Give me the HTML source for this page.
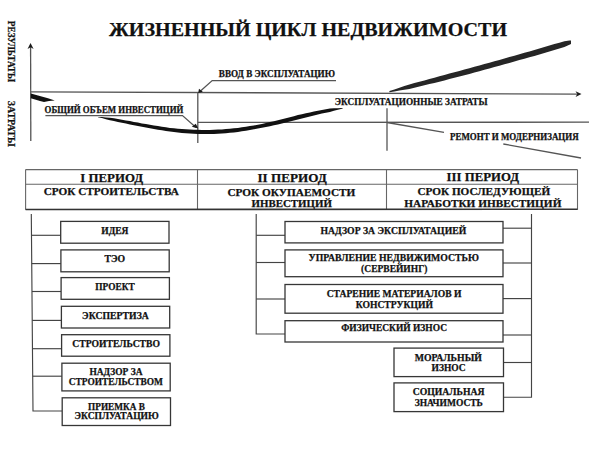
<!DOCTYPE html>
<html><head><meta charset="utf-8">
<style>
html,body{margin:0;padding:0;background:#fff;}
body{width:607px;height:452px;overflow:hidden;}
svg{display:block;}
text{font-family:"Liberation Serif",serif;font-weight:bold;fill:#111;stroke:#111;stroke-width:0.25px;}
</style></head><body>
<svg width="607" height="452" viewBox="0 0 607 452">
<text x="109" y="35.6" font-size="19.5" textLength="398.0" lengthAdjust="spacingAndGlyphs">ЖИЗНЕННЫЙ ЦИКЛ НЕДВИЖИМОСТИ</text>
<text transform="translate(7.8,20.8) rotate(90)" font-size="10.2" textLength="61.2" lengthAdjust="spacingAndGlyphs">РЕЗУЛЬТАТЫ</text>
<text transform="translate(8.3,100.8) rotate(90)" font-size="10.2" textLength="46" lengthAdjust="spacingAndGlyphs">ЗАТРАТЫ</text>
<g stroke="#555" fill="none" stroke-width="1.3">
<line x1="30.8" y1="141" x2="30.6" y2="47"/>
<line x1="31" y1="91.8" x2="577" y2="94.1"/>
<line x1="198" y1="122.4" x2="589" y2="122.2"/>
<line x1="197.8" y1="92.5" x2="197.8" y2="143"/>
<line x1="387" y1="108.3" x2="387" y2="150.8"/>
<line x1="387" y1="122.5" x2="444" y2="132.3"/>
<line x1="503.3" y1="144" x2="581" y2="158"/>
<polyline points="45.4,115.6 182.5,115.6 196,127.5"/>
<polyline points="336,80.6 212.2,80.6 200.5,91"/>
</g>
<g fill="#1a1a1a">
<path d="M30.5,43 L27.5,49 L30.6,47.3 L33.6,49 Z"/>
<path d="M581.5,94.1 L575.5,91.2 L577.3,94.1 L575.5,97 Z"/>
<path d="M198.3,128.6 L191.8,126.8 L195.8,123.8 Z"/>
<path d="M198.2,93 L199,88.8 L202.8,91.8 Z"/>
</g>
<path fill="#111" d="M30.8,93.6 L38,95.5 L48,98.3 L54.8,100.6 L49,101 L44,101.9 L40,101 L30.8,98.2 Z"/>
<path fill="#111" d="M97.9,116.9 L101.9,117.1 L105.9,117.4 L109.9,117.7 L113.9,118.3 L117.9,119.0 L121.9,119.7 L125.9,120.4 L129.9,121.1 L133.9,121.9 L137.9,122.6 L141.9,123.4 L145.9,124.1 L149.9,124.8 L153.9,125.5 L157.9,126.1 L161.9,126.8 L165.9,127.3 L169.9,127.9 L173.9,128.3 L177.9,128.7 L181.9,129.0 L185.9,129.3 L189.9,129.5 L193.9,129.7 L197.9,129.8 L201.9,129.9 L205.9,129.9 L209.9,129.9 L213.9,129.8 L217.9,129.6 L221.9,129.4 L225.9,129.1 L229.9,128.8 L233.9,128.3 L237.9,127.9 L241.9,127.3 L245.9,126.7 L249.9,126.1 L253.9,125.4 L257.9,124.7 L261.9,123.9 L265.9,123.0 L269.9,122.1 L273.9,121.2 L277.9,120.2 L281.9,119.2 L285.9,118.2 L289.9,117.2 L293.9,116.2 L297.9,115.1 L301.9,114.2 L305.9,113.3 L309.9,112.4 L313.9,111.5 L317.9,110.7 L321.9,109.9 L325.9,109.2 L329.9,108.5 L333.9,108.3 L337.9,108.2 L341.9,108.1 L342.7,108.1 L342.7,108.5 L341.9,108.7 L337.9,109.7 L333.9,110.7 L329.9,111.9 L325.9,112.7 L321.9,113.6 L317.9,114.5 L313.9,115.5 L309.9,116.5 L305.9,117.5 L301.9,118.6 L297.9,119.6 L293.9,120.6 L289.9,121.5 L285.9,122.5 L281.9,123.4 L277.9,124.4 L273.9,125.3 L269.9,126.2 L265.9,127.0 L261.9,127.8 L257.9,128.6 L253.9,129.3 L249.9,130.1 L245.9,130.7 L241.9,131.3 L237.9,131.9 L233.9,132.4 L229.9,132.8 L225.9,133.2 L221.9,133.5 L217.9,133.7 L213.9,133.9 L209.9,134.0 L205.9,134.1 L201.9,134.1 L197.9,134.0 L193.9,133.8 L189.9,133.6 L185.9,133.3 L181.9,132.9 L177.9,132.5 L173.9,132.0 L169.9,131.5 L165.9,130.9 L161.9,130.3 L157.9,129.7 L153.9,129.0 L149.9,128.3 L145.9,127.6 L141.9,126.8 L137.9,126.1 L133.9,125.3 L129.9,124.5 L125.9,123.6 L121.9,122.8 L117.9,121.9 L113.9,121.1 L109.9,120.3 L105.9,119.2 L101.9,118.1 L97.9,117.2 Z"/>
<path fill="#262626" d="M389.4,91.0 L394.4,89.4 L399.4,87.8 L404.4,86.1 L409.4,84.5 L414.4,83.1 L419.4,81.7 L424.4,80.4 L429.4,79.0 L434.4,77.7 L439.4,76.3 L444.4,75.0 L449.4,73.6 L454.4,72.3 L459.4,70.9 L464.4,69.6 L469.4,68.2 L474.4,66.8 L479.4,65.5 L484.4,64.1 L489.4,62.7 L494.4,61.3 L499.4,59.9 L504.4,58.5 L509.4,57.1 L514.4,55.7 L519.4,54.3 L524.4,52.8 L529.4,51.4 L534.4,49.9 L539.4,48.4 L544.4,47.0 L549.4,45.6 L554.4,44.1 L559.4,42.7 L564.4,41.2 L569.4,40.5 L571.0,40.4 L571.0,43.9 L569.4,44.7 L564.4,46.9 L559.4,48.5 L554.4,50.0 L549.4,51.5 L544.4,53.0 L539.4,54.4 L534.4,55.9 L529.4,57.3 L524.4,58.7 L519.4,60.1 L514.4,61.6 L509.4,63.0 L504.4,64.3 L499.4,65.7 L494.4,67.1 L489.4,68.5 L484.4,69.8 L479.4,71.2 L474.4,72.6 L469.4,73.9 L464.4,75.2 L459.4,76.5 L454.4,77.8 L449.4,79.1 L444.4,80.4 L439.4,81.7 L434.4,82.9 L429.4,84.1 L424.4,85.3 L419.4,86.5 L414.4,87.7 L409.4,88.9 L404.4,89.7 L399.4,90.6 L394.4,91.4 L389.4,92.2 Z"/>
<text x="44.6" y="112.6" font-size="9.3" textLength="138.8" lengthAdjust="spacingAndGlyphs">ОБЩИЙ ОБЪЕМ ИНВЕСТИЦИЙ</text>
<text x="218.8" y="77.3" font-size="9.3" textLength="116.2" lengthAdjust="spacingAndGlyphs">ВВОД В ЭКСПЛУАТАЦИЮ</text>
<text x="334.8" y="105.3" font-size="9.3" textLength="152.7" lengthAdjust="spacingAndGlyphs">ЭКСПЛУАТАЦИОННЫЕ ЗАТРАТЫ</text>
<text x="450" y="140.3" font-size="9.3" textLength="128.6" lengthAdjust="spacingAndGlyphs">РЕМОНТ И МОДЕРНИЗАЦИЯ</text>
<g stroke="#666" fill="none" stroke-width="1.1">
<line x1="25.6" y1="169.6" x2="577.5" y2="169.6"/>
<line x1="25.6" y1="184.3" x2="577.5" y2="184.3"/>
<line x1="25.6" y1="169.6" x2="25.6" y2="209.8"/>
<line x1="577.5" y1="169.6" x2="577.5" y2="209.8"/>
<line x1="197.5" y1="169.6" x2="197.5" y2="209.8"/>
<line x1="386.5" y1="169.6" x2="386.5" y2="209.8"/>
<line x1="25.6" y1="209.5" x2="577.5" y2="209.2" stroke="#333" stroke-width="1.6"/>
</g>
<text x="80.3" y="181.8" font-size="12.6" textLength="62.8" lengthAdjust="spacingAndGlyphs">I ПЕРИОД</text>
<text x="43.7" y="195.4" font-size="10.8" textLength="135.1" lengthAdjust="spacingAndGlyphs">СРОК СТРОИТЕЛЬСТВА</text>
<text x="257.5" y="181.6" font-size="12.6" textLength="69.2" lengthAdjust="spacingAndGlyphs">II ПЕРИОД</text>
<text x="227.4" y="195.5" font-size="10.8" textLength="128.0" lengthAdjust="spacingAndGlyphs">СРОК ОКУПАЕМОСТИ</text>
<text x="251.6" y="206.7" font-size="10.8" textLength="80.3" lengthAdjust="spacingAndGlyphs">ИНВЕСТИЦИЙ</text>
<text x="446.6" y="181.4" font-size="12.6" textLength="72.4" lengthAdjust="spacingAndGlyphs">III ПЕРИОД</text>
<text x="417.4" y="194.9" font-size="10.8" textLength="132.8" lengthAdjust="spacingAndGlyphs">СРОК ПОСЛЕДУЮЩЕЙ</text>
<text x="404.3" y="207.1" font-size="10.8" textLength="157.1" lengthAdjust="spacingAndGlyphs">НАРАБОТКИ ИНВЕСТИЦИЙ</text>
<g stroke="#444" fill="none" stroke-width="1.15">
<polyline points="31.3,214 33.0,411 62.2,411"/>
<line x1="31.5" y1="235.3" x2="60.7" y2="235.3"/>
<line x1="31.7" y1="263.6" x2="60.9" y2="263.6"/>
<line x1="32.0" y1="291.5" x2="61.2" y2="291.5"/>
<line x1="32.2" y1="320.4" x2="61.4" y2="320.4"/>
<line x1="32.4" y1="348.7" x2="61.6" y2="348.7"/>
<line x1="32.7" y1="376.2" x2="61.9" y2="376.2"/>
<polyline points="256.2,214 256.2,334 285,334"/>
<line x1="256.2" y1="235.3" x2="285" y2="235.3"/>
<line x1="256.2" y1="262.5" x2="285" y2="262.5"/>
<line x1="256.2" y1="299" x2="285" y2="299"/>
<polyline points="531.5,214 531.5,397.2 503.5,397.2"/>
<line x1="503" y1="228.2" x2="531.5" y2="228.2"/>
<line x1="503" y1="263" x2="531.5" y2="263"/>
<line x1="503" y1="298.6" x2="531.5" y2="298.6"/>
<line x1="503" y1="335" x2="531.5" y2="335"/>
<line x1="503" y1="362.5" x2="531.5" y2="362.5"/>
</g>
<g stroke="#363636" fill="#fff" stroke-width="1.3">
<rect x="60.7" y="221.4" width="108.3" height="21.8"/>
<rect x="60.9" y="249.9" width="108.3" height="21.9"/>
<rect x="61.1" y="277.6" width="108.3" height="21.7"/>
<rect x="61.4" y="306.3" width="108.3" height="21.7"/>
<rect x="61.6" y="334.7" width="108.3" height="21.5"/>
<rect x="61.9" y="363.2" width="108.3" height="27.7"/>
<rect x="62.2" y="397.8" width="108.3" height="27.7"/>
<rect x="285.0" y="221.5" width="218.0" height="21.4"/>
<rect x="285.0" y="249.9" width="218.0" height="26.8"/>
<rect x="285.0" y="284.5" width="218.0" height="28.7"/>
<rect x="285.0" y="320.7" width="218.0" height="21.3"/>
<rect x="394.0" y="348.1" width="109.5" height="28.5"/>
<rect x="394.0" y="382.9" width="109.5" height="28.7"/>
</g>
<text x="101.3" y="234.1" font-size="9.8" textLength="27.2" lengthAdjust="spacingAndGlyphs">ИДЕЯ</text>
<text x="104.4" y="262" font-size="9.8" textLength="20.8" lengthAdjust="spacingAndGlyphs">ТЭО</text>
<text x="95.3" y="289.8" font-size="9.8" textLength="39.4" lengthAdjust="spacingAndGlyphs">ПРОЕКТ</text>
<text x="82.1" y="318.5" font-size="9.8" textLength="66.7" lengthAdjust="spacingAndGlyphs">ЭКСПЕРТИЗА</text>
<text x="72.3" y="346.8" font-size="9.8" textLength="87.7" lengthAdjust="spacingAndGlyphs">СТРОИТЕЛЬСТВО</text>
<text x="89.4" y="375.4" font-size="9.8" textLength="53.1" lengthAdjust="spacingAndGlyphs">НАДЗОР ЗА</text>
<text x="68.7" y="385.4" font-size="9.8" textLength="94.2" lengthAdjust="spacingAndGlyphs">СТРОИТЕЛЬСТВОМ</text>
<text x="88.1" y="409.8" font-size="9.8" textLength="56.7" lengthAdjust="spacingAndGlyphs">ПРИЕМКА В</text>
<text x="74.5" y="419.4" font-size="9.8" textLength="84.3" lengthAdjust="spacingAndGlyphs">ЭКСПЛУАТАЦИЮ</text>
<text x="320.5" y="233.6" font-size="9.8" textLength="145.7" lengthAdjust="spacingAndGlyphs">НАДЗОР ЗА ЭКСПЛУАТАЦИЕЙ</text>
<text x="308.6" y="260.8" font-size="9.8" textLength="170.3" lengthAdjust="spacingAndGlyphs">УПРАВЛЕНИЕ НЕДВИЖИМОСТЬЮ</text>
<text x="361.1" y="272.4" font-size="9.8" textLength="66.3" lengthAdjust="spacingAndGlyphs">(СЕРВЕЙИНГ)</text>
<text x="326.7" y="297.2" font-size="9.8" textLength="134.8" lengthAdjust="spacingAndGlyphs">СТАРЕНИЕ МАТЕРИАЛОВ И</text>
<text x="355.7" y="308.3" font-size="9.8" textLength="77.2" lengthAdjust="spacingAndGlyphs">КОНСТРУКЦИЙ</text>
<text x="341.2" y="330.9" font-size="9.8" textLength="105.8" lengthAdjust="spacingAndGlyphs">ФИЗИЧЕСКИЙ ИЗНОС</text>
<text x="414.7" y="360.8" font-size="9.8" textLength="67.2" lengthAdjust="spacingAndGlyphs">МОРАЛЬНЫЙ</text>
<text x="431.5" y="371.3" font-size="9.8" textLength="34.2" lengthAdjust="spacingAndGlyphs">ИЗНОС</text>
<text x="412.7" y="395.4" font-size="9.8" textLength="71.8" lengthAdjust="spacingAndGlyphs">СОЦИАЛЬНАЯ</text>
<text x="414.7" y="405.9" font-size="9.8" textLength="68.2" lengthAdjust="spacingAndGlyphs">ЗНАЧИМОСТЬ</text>
</svg>
</body></html>
